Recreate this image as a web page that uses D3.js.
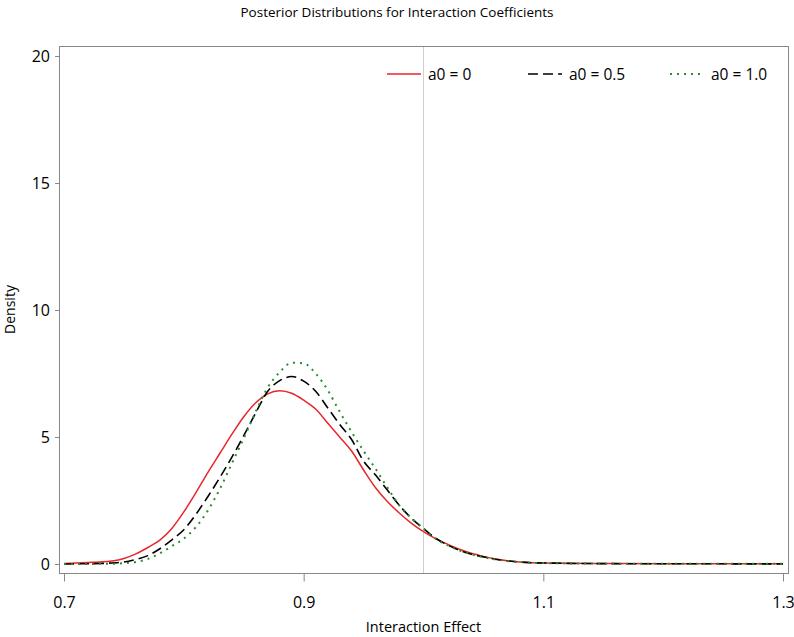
<!DOCTYPE html>
<html>
<head>
<meta charset="utf-8">
<script src="https://cdn.jsdelivr.net/npm/d3@7"></script>
<style>
  body { margin: 0; background: #fff; }
  text { font-family: "Open Sans", sans-serif; fill: #000; }
</style>
</head>
<body>
<script>
// x grid of the density estimates
var xs = [0.70, 0.71, 0.72, 0.73, 0.74, 0.75, 0.76, 0.77, 0.78, 0.79,
          0.80, 0.81, 0.82, 0.83, 0.84, 0.85, 0.86, 0.87, 0.88, 0.89,
          0.90, 0.91, 0.92, 0.93, 0.94, 0.95, 0.96, 0.97, 0.98, 0.99,
          1.00, 1.01, 1.02, 1.03, 1.04, 1.05, 1.06, 1.07, 1.08, 1.09,
          1.10, 1.15, 1.20, 1.25, 1.30];

var densA0 = [0.02, 0.04, 0.06, 0.08, 0.12, 0.22, 0.40, 0.65, 0.94, 1.40,
              2.05, 2.80, 3.60, 4.35, 5.10, 5.80, 6.35, 6.70, 6.82, 6.72,
              6.45, 6.10, 5.55, 5.00, 4.45, 3.70, 3.00, 2.45, 2.00, 1.60,
              1.27, 1.00, 0.78, 0.58, 0.42, 0.30, 0.20, 0.13, 0.08, 0.05,
              0.04, 0.02, 0.01, 0.007, 0.005];

var densA05 = [0.00, 0.005, 0.01, 0.02, 0.04, 0.08, 0.18, 0.33, 0.60, 0.95,
               1.35, 1.95, 2.65, 3.40, 4.20, 5.05, 5.95, 6.80, 7.22, 7.38,
               7.20, 6.80, 6.15, 5.50, 4.90, 4.05, 3.50, 2.90, 2.30, 1.80,
               1.40, 1.02, 0.75, 0.54, 0.38, 0.28, 0.19, 0.12, 0.08, 0.05,
               0.04, 0.015, 0.01, 0.007, 0.005];

var densA1 = [0.00, 0.00, 0.00, 0.005, 0.01, 0.03, 0.08, 0.20, 0.42, 0.70,
              1.00, 1.45, 2.10, 2.95, 3.95, 4.95, 6.00, 6.95, 7.55, 7.92,
              7.90, 7.50, 6.85, 6.00, 5.20, 4.45, 3.75, 3.00, 2.30, 1.80,
              1.40, 1.00, 0.74, 0.53, 0.38, 0.27, 0.18, 0.12, 0.08, 0.05,
              0.035, 0.015, 0.01, 0.007, 0.005];

var seriesNames = ["a0 = 0", "a0 = 0.5", "a0 = 1.0"];
var xTicks = [0.7, 0.9, 1.1, 1.3];
var yTicks = [0, 5, 10, 15, 20];
var refX = 1.0;

var W = 794, H = 637;
var frame = {left: 59, top: 46, right: 788, bottom: 573};

var svg = d3.select("body").append("svg")
    .attr("width", W)
    .attr("height", H);

var x = d3.scaleLinear().domain([0.7, 1.3]).range([64, 783]);
var y = d3.scaleLinear().domain([0, 20]).range([564, 56]);

var series = [
  {name: seriesNames[0], values: densA0, color: "#e8262a", dash: null, width: 1.5},
  {name: seriesNames[1], values: densA05, color: "#000000", dash: "10,5", width: 1.6},
  {name: seriesNames[2], values: densA1, color: "#2f8a2f", dash: "2,5", width: 2}
];

// title
svg.append("text")
    .attr("x", W / 2)
    .attr("y", 17)
    .attr("text-anchor", "middle")
    .attr("font-size", "13.5px")
    .text("Posterior Distributions for Interaction Coefficients");

// reference line
svg.append("line")
    .attr("x1", x(refX)).attr("x2", x(refX))
    .attr("y1", frame.top).attr("y2", frame.bottom)
    .attr("stroke", "#cfcfcf")
    .attr("stroke-width", 1);

// curves
var line = d3.line()
    .x(function(d) { return x(d[0]); })
    .y(function(d) { return y(d[1]); })
    .curve(d3.curveMonotoneX);

series.forEach(function(s) {
  svg.append("path")
    .datum(xs.map(function(v, i) { return [v, s.values[i]]; }))
    .attr("fill", "none")
    .attr("stroke", s.color)
    .attr("stroke-width", s.width)
    .attr("stroke-dasharray", s.dash)
    .attr("d", line);
});

// frame
svg.append("rect")
    .attr("x", frame.left + 0.5)
    .attr("y", frame.top + 0.5)
    .attr("width", frame.right - frame.left)
    .attr("height", frame.bottom - frame.top)
    .attr("fill", "none")
    .attr("stroke", "#888")
    .attr("stroke-width", 1);

// x axis: minor ticks then major ticks with labels
var xMinor = d3.range(0.7, 1.3001, 0.02);
var gx = svg.append("g")
    .attr("transform", "translate(0," + (frame.bottom + 0.5) + ")");
gx.call(d3.axisBottom(x).tickValues(xMinor).tickSize(4).tickFormat(""));
gx.call(d3.axisBottom(x).tickValues(xTicks).tickSize(8).tickPadding(15).tickFormat(d3.format(".1f")));
gx.selectAll(".domain").remove();
gx.selectAll("line").attr("stroke", "#888");
gx.selectAll("text").attr("font-size", "16px").style("font-family", "'Open Sans', sans-serif");

// y axis
var yMinor = d3.range(0, 20.001, 0.5);
var gy = svg.append("g")
    .attr("transform", "translate(" + (frame.left + 0.5) + ",0)");
gy.call(d3.axisLeft(y).tickValues(yMinor).tickSize(2.5).tickFormat(""));
gy.call(d3.axisLeft(y).tickValues(yTicks).tickSize(4.5).tickPadding(5).tickFormat(d3.format("d")));
gy.selectAll(".domain").remove();
gy.selectAll("line").attr("stroke", "#888");
gy.selectAll("text").attr("font-size", "16px").style("font-family", "'Open Sans', sans-serif");

// axis labels
svg.append("text")
    .attr("x", (frame.left + frame.right) / 2)
    .attr("y", 632)
    .attr("text-anchor", "middle")
    .attr("font-size", "14.5px")
    .text("Interaction Effect");

svg.append("text")
    .attr("transform", "translate(15," + ((frame.top + frame.bottom) / 2) + ") rotate(-90)")
    .attr("text-anchor", "middle")
    .attr("font-size", "14px")
    .text("Density");

// legend
var legendX = [387, 528, 670];
var legendY = 74;
series.forEach(function(s, i) {
  var g = svg.append("g");
  g.append("line")
    .attr("x1", legendX[i]).attr("x2", legendX[i] + 34)
    .attr("y1", legendY).attr("y2", legendY)
    .attr("stroke", s.color)
    .attr("stroke-width", s.width)
    .attr("stroke-dasharray", s.dash);
  g.append("text")
    .attr("x", legendX[i] + 41)
    .attr("y", legendY + 5.5)
    .attr("font-size", "15.5px")
    .text(s.name);
});
</script>
</body>
</html>
